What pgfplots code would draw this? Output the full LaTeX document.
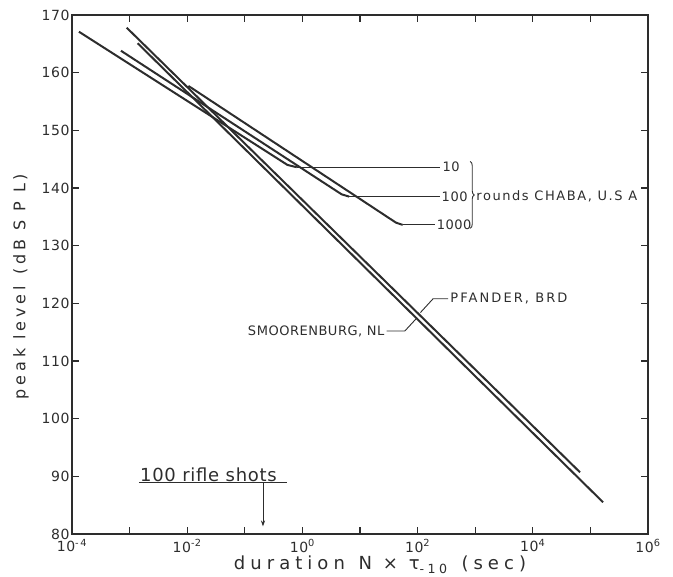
\documentclass[border=0pt]{standalone}
\usepackage{pgfplots}
\pgfplotsset{compat=1.18}
\usepackage{fontspec}
\setmainfont{DejaVu Sans}[LetterSpace=4]
\usetikzlibrary{decorations.pathreplacing,arrows.meta,calc}
\definecolor{ink}{RGB}{45,45,45}

\begin{document}
\begin{tikzpicture}
\begin{axis}[
  scale only axis, width=576pt, height=519pt,
  xmode=log, xmin=1e-4, xmax=1e6, ymin=80, ymax=170,
  xtick={1e-4,1e-3,1e-2,1e-1,1,1e1,1e2,1e3,1e4,1e5,1e6},
  xticklabels={10\textsuperscript{-\,4},,10\textsuperscript{-2},,10\textsuperscript{0},,10\textsuperscript{2},,10\textsuperscript{4},,10\textsuperscript{6}},
  xminorticks=false,
  ytick={80,90,...,170},
  /pgf/number format/assume math mode=true,
  tick align=inside,
  major tick length=7pt,
  tick style={draw=ink, line width=1.3pt},
  axis line style={ink, line width=1.1pt},
  tick label style={font=\fontsize{14}{16}\selectfont, text=ink},
  xticklabel style={yshift=-2pt},
  yticklabel style={xshift=1pt},
  xlabel={\addfontfeature{LetterSpace=28}duration\, N × τ\textsubscript{-10}\, (sec)},
  ylabel={\addfontfeature{LetterSpace=24}peak level\, (dB S P L)},
  xlabel style={font=\fontsize{18}{20}\selectfont, text=ink, yshift=3pt, xshift=20pt},
  ylabel style={font=\fontsize{16}{18}\selectfont, text=ink, yshift=6pt, xshift=-12pt},
  clip=false,
]
% CHABA, sloped parts
\addplot[ink, line width=2pt] coordinates {(1.32e-4,167.1) (0.55,144.0) (0.8,143.6)};
\addplot[ink, line width=2pt] coordinates {(7.08e-4,163.8) (4.8,138.9) (6.5,138.5)};
\addplot[ink, line width=2pt] coordinates {(1.05e-2,157.7) (42,134.0) (55,133.6)};
% CHABA, level parts to the labels
\addplot[ink, line width=0.9pt] coordinates {(0.8,143.6) (245,143.6)};
\addplot[ink, line width=0.9pt] coordinates {(6.5,138.5) (245,138.5)};
\addplot[ink, line width=0.9pt] coordinates {(55,133.6) (200,133.6)};
% Pfander, Smoorenburg
\addplot[ink, line width=2pt] coordinates {(8.9e-4,167.8) (6.6e4,90.7)};
\addplot[ink, line width=2pt] coordinates {(1.38e-3,165.1) (1.66e5,85.5)};

\node[anchor=west, font=\fontsize{13}{15}\selectfont, text=ink, inner sep=1pt] at (axis cs:260,143.6) {10};
\node[anchor=west, font=\fontsize{13}{15}\selectfont, text=ink, inner sep=1pt] at (axis cs:250,138.5) {100};
\node[anchor=west, font=\fontsize{13}{15}\selectfont, text=ink, inner sep=1pt] at (axis cs:205,133.6) {1000};
\draw[ink, line width=0.9pt, decorate, decoration={brace, amplitude=4pt}]
  (axis cs:820,144.6) -- (axis cs:820,133.0);
\node[anchor=west, font=\fontsize{13}{15}\selectfont, text=ink, inner sep=1pt] at (axis cs:1000,138.6) {\addfontfeature{LetterSpace=12}rounds CHABA, U.S A};

\draw[ink, line width=0.9pt] (axis cs:340,120.8) -- (axis cs:186,120.8) -- (axis cs:112,118.4);
\node[anchor=west, font=\fontsize{13}{15}\selectfont, text=ink, inner sep=2pt] at (axis cs:340,120.8) {\addfontfeature{LetterSpace=16}PFANDER, BRD};
\draw[ink, line width=0.9pt] (axis cs:29,115.2) -- (axis cs:60,115.2) -- (axis cs:98,117.5);
\node[anchor=east, font=\fontsize{13}{15}\selectfont, text=ink, inner sep=2pt] at (axis cs:29,115.2) {SMOORENBURG, NL};

\draw[ink, line width=1pt] (axis cs:1.45e-3,88.9) -- (axis cs:0.54,88.9);
\node[anchor=south west, font=\fontsize{18}{20}\selectfont, text=ink, inner sep=1pt] at (axis cs:1.45e-3,88.9) {100 rifle shots};
\draw[ink, line width=0.9pt, -{Stealth[length=6pt,width=4pt]}] (axis cs:0.207,88.9) -- (axis cs:0.207,81.3);
\end{axis}
\path ($(current axis.south west)+(-72pt,-39pt)$) rectangle ($(current axis.north east)+(25pt,15pt)$);
\end{tikzpicture}
\end{document}
